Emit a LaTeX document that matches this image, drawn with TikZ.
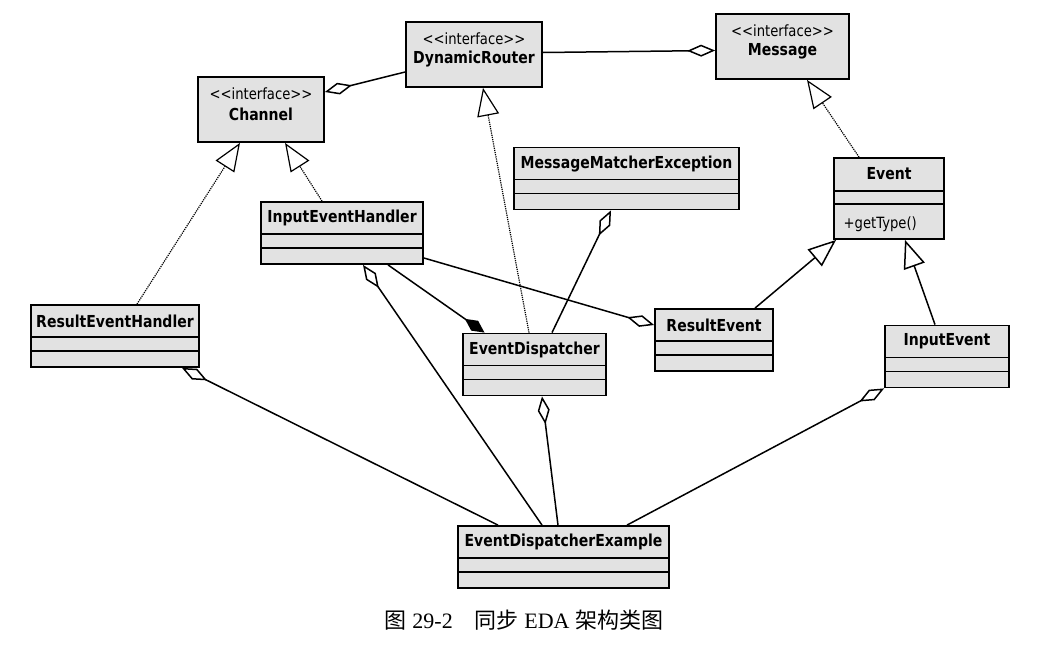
\documentclass[tikz,border=0pt]{standalone}
\usepackage{fontspec}
\setmainfont{Liberation Serif}
\newfontfamily\boxfont{DejaVu Sans}[FakeStretch=0.85]
\newfontfamily\cjk{Noto Sans CJK SC}
\usepackage{tikz}
\usetikzlibrary{positioning}
\usetikzlibrary{arrows.meta}
\usetikzlibrary{calc}
\definecolor{boxgray}{RGB}{226,226,226}
\newcommand{\ster}{<\kern0pt<interface>\kern0pt>}
\tikzstyle{box}=[draw,line width=1.8pt,fill=boxgray,inner sep=0pt]
\tikzstyle{stereo}=[font=\boxfont\fontsize{15.5}{15.5}\selectfont]
\tikzstyle{cname}=[font=\boxfont\bfseries\fontsize{16.5}{16.5}\selectfont]
\tikzstyle{sep}=[line width=1.5pt]
\tikzstyle{real}=[-{Triangle[length=28pt,width=22pt,fill=white]},densely dotted,line width=1.2pt]
\tikzstyle{gen}=[-{Triangle[length=28pt,width=22pt,fill=white]},line width=1.5pt]
\tikzstyle{agg}=[{Diamond[length=28pt,width=12pt,fill=white]}-,line width=1.5pt]
\tikzstyle{comp}=[-{Diamond[length=24pt,width=12pt]},line width=1.5pt]

\begin{document}
\begin{tikzpicture}[x=1pt,y=-1pt]
	\useasboundingbox (0,0) rectangle (1042,648);
	% interfaces
	\foreach \n/\x/\y/\w/\t in {ch/261/109.5/126/Channel,dr/474/54.5/136/DynamicRouter,msg/782.5/46.5/133/Message} {
		\node[box,minimum width=\w pt,minimum height=65pt] (\n) at (\x,\y) {};
		\node[stereo] (\n-s) at ([yshift=-18pt]\n.north) {\ster};
		\node[cname] (\n-t) at ([yshift=-38pt]\n.north) {\t};}
	% classes
	\foreach \n/\x/\y/\w/\t in {reh/115/336/168/ResultEventHandler,ieh/342/233/162/InputEventHandler,mme/626.5/178.5/225/MessageMatcherException,ed/534.5/364.5/143/EventDispatcher,re/714/340/118/ResultEvent,ie/947/356.5/124/InputEvent,ede/563.5/557/211/EventDispatcherExample} {
		\node[box,minimum width=\w pt,minimum height=62pt] (\n) at (\x,\y) {};
		\node[cname] (\n-t) at ([yshift=-17pt]\n.north) {\t};
		\draw[sep] ([yshift=-33pt]\n.north west)--([yshift=-33pt]\n.north east);
		\draw[sep] ([yshift=-47pt]\n.north west)--([yshift=-47pt]\n.north east);}
	\node[box,minimum width=110pt,minimum height=81pt] (ev) at (889,198.5) {};
	\node[cname] (ev-t) at ([yshift=-17pt]ev.north) {Event};
	\draw[sep] ([yshift=-34pt]ev.north west)--([yshift=-34pt]ev.north east);
	\draw[sep] ([yshift=-47pt]ev.north west)--([yshift=-47pt]ev.north east);
	\node[stereo,anchor=west] (ev-m) at ([xshift=7pt,yshift=16pt]ev.south west) {+getType()};
	% realization
	\draw[real] ([xshift=-30pt]ev.north)--([xshift=24.5pt]msg.south);
	\draw[real] ([xshift=22pt]reh.north)--([xshift=-21pt]ch.south);
	\draw[real] ([xshift=-20pt]ieh.north)--([xshift=24pt]ch.south);
	\draw[real] ([xshift=-5.5pt]ed.north)--([xshift=9pt]dr.south);
	% generalization
	\draw[gen] ([xshift=41pt]re.north)--([xshift=3pt]ev.south west);
	\draw[gen] ([xshift=-12pt]ie.north)--([xshift=16pt]ev.south);
	% aggregation
	\draw[agg] ([yshift=17.5pt]ch.east)--([yshift=-17.5pt]dr.west);
	\draw[agg] ([yshift=-4pt]msg.west)--([yshift=2pt]dr.east);
	\draw[agg] ([xshift=-15.5pt]mme.south)--([xshift=17.5pt]ed.north);
	\draw[agg] ([yshift=15pt]re.west)--([yshift=-25pt]ieh.east);
	\draw[comp] ([xshift=46pt]ieh.south)--([xshift=-50pt]ed.north);
	\draw[agg] ([xshift=21pt]ieh.south)--([xshift=-21.5pt]ede.north);
	\draw[agg] ([xshift=67pt]reh.south)--([xshift=-65.5pt]ede.north);
	\draw[agg] ([xshift=7.5pt]ed.south)--([xshift=-5.5pt]ede.north);
	\draw[agg] (ie.south west)--([xshift=63.5pt]ede.north);
	\node[font=\fontsize{22}{22}\selectfont] (cap) at (524,620) {{\cjk 图}~29-2\hspace{1em}{\cjk 同步}~EDA~{\cjk 架构类图}};
\end{tikzpicture}
\end{document}
